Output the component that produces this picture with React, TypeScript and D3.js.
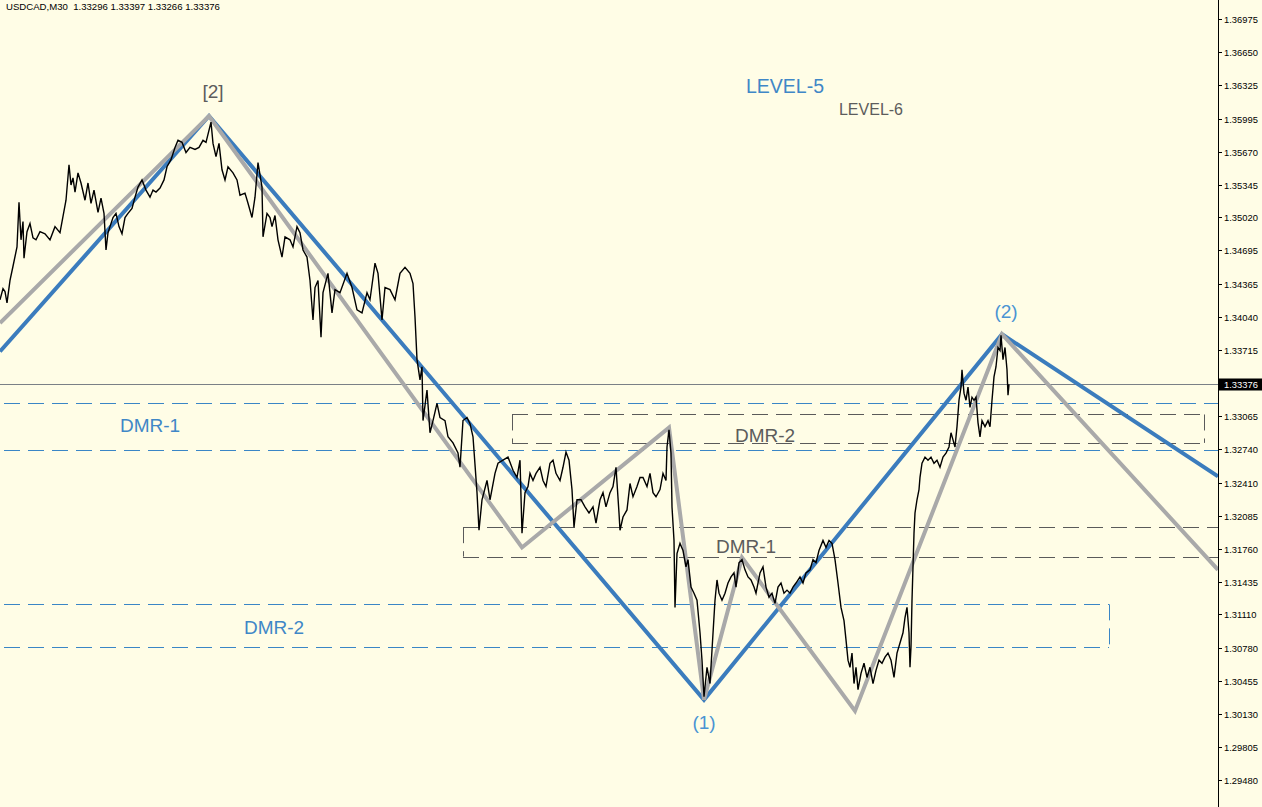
import { useEffect, useRef } from "react"
import * as d3 from "d3"

// chart header
const symbol = "USDCAD,M30"
const lastBar = [1.33296, 1.33397, 1.33266, 1.33376] // open high low close

// right price scale labels
const tickLabels = [
  "1.36975", "1.36650", "1.36325", "1.35995", "1.35670", "1.35345", "1.35020", "1.34695",
  "1.34365", "1.34040", "1.33715", "1.33065", "1.32740", "1.32410", "1.32085", "1.31760",
  "1.31435", "1.31110", "1.30780", "1.30455", "1.30130", "1.29805", "1.29480",
]

// close prices: [bar, price]
const closes: [number, number][] = [
  [0, 1.3421], [3, 1.3432], [5, 1.3429], [7, 1.3418], [10, 1.344], [13, 1.3454], [17, 1.3473],
  [19, 1.3517], [21, 1.348], [23, 1.3498], [24, 1.3462], [27, 1.3488], [30, 1.3496], [33, 1.3482],
  [36, 1.348], [40, 1.3488], [45, 1.3486], [50, 1.348], [55, 1.3493], [60, 1.3487], [63, 1.3503],
  [66, 1.3519], [69, 1.3554], [71, 1.3534], [73, 1.3541], [75, 1.3527], [78, 1.3546], [81, 1.3536],
  [85, 1.3519], [88, 1.3536], [91, 1.3516], [94, 1.3529], [98, 1.3507], [101, 1.3521], [104, 1.3506],
  [106, 1.347], [108, 1.3487], [110, 1.3493], [113, 1.3502], [116, 1.3506], [119, 1.3493],
  [122, 1.3486], [125, 1.3502], [128, 1.3506], [132, 1.3511], [135, 1.3522], [138, 1.3532],
  [142, 1.3539], [146, 1.3529], [150, 1.3522], [153, 1.3529], [156, 1.3527], [160, 1.3531],
  [164, 1.3539], [167, 1.3552], [171, 1.3559], [175, 1.3571], [178, 1.3578], [182, 1.3576],
  [186, 1.3566], [190, 1.3571], [195, 1.3569], [199, 1.3571], [203, 1.3578], [206, 1.3576],
  [211, 1.3596], [213, 1.3575], [216, 1.3562], [219, 1.3575], [222, 1.3549], [225, 1.3539],
  [228, 1.3552], [233, 1.3546], [237, 1.3539], [240, 1.3524], [245, 1.3526], [248, 1.3516],
  [252, 1.3502], [255, 1.3522], [258, 1.3556], [260, 1.3544], [262, 1.3532], [263, 1.3483],
  [267, 1.3506], [270, 1.3502], [272, 1.3493], [275, 1.3504], [278, 1.348], [282, 1.3463],
  [285, 1.3483], [290, 1.348], [293, 1.3473], [297, 1.3493], [300, 1.3487], [303, 1.347],
  [307, 1.3463], [310, 1.344], [313, 1.3401], [315, 1.3433], [318, 1.344], [321, 1.3384],
  [323, 1.3428], [328, 1.3447], [332, 1.3408], [335, 1.3431], [340, 1.3428], [347, 1.3447],
  [352, 1.3433], [357, 1.3411], [362, 1.3408], [367, 1.3428], [370, 1.3421], [375, 1.3457],
  [378, 1.3447], [382, 1.3401], [385, 1.3433], [390, 1.3431], [395, 1.3421], [400, 1.3447],
  [405, 1.3453], [410, 1.3447], [413, 1.3437], [415, 1.3404], [417, 1.3362], [420, 1.3342],
  [422, 1.3355], [423, 1.3302], [427, 1.3332], [430, 1.329], [433, 1.3302], [437, 1.3319],
  [440, 1.3305], [445, 1.3302], [448, 1.3286], [453, 1.328], [458, 1.327], [460, 1.3256],
  [463, 1.3302], [467, 1.3305], [470, 1.3299], [473, 1.3286], [477, 1.3231], [479, 1.3194],
  [482, 1.3224], [487, 1.3243], [490, 1.3224], [495, 1.325], [498, 1.326], [503, 1.3263],
  [508, 1.3266], [513, 1.3253], [517, 1.3246], [520, 1.3263], [522, 1.3191], [525, 1.3231],
  [528, 1.3237], [530, 1.325], [533, 1.3243], [536, 1.325], [540, 1.3256], [543, 1.3243],
  [546, 1.3237], [550, 1.326], [553, 1.3263], [556, 1.325], [560, 1.3243], [563, 1.3256],
  [566, 1.3271], [569, 1.3263], [572, 1.3234], [574, 1.3197], [577, 1.3224], [581, 1.3224],
  [585, 1.3217], [589, 1.3211], [593, 1.3217], [596, 1.3201], [600, 1.3224], [603, 1.3231],
  [606, 1.3217], [610, 1.3231], [613, 1.3237], [616, 1.3256], [619, 1.3211], [620, 1.3194],
  [623, 1.3207], [627, 1.3214], [630, 1.324], [633, 1.3227], [637, 1.3237], [640, 1.3246],
  [643, 1.3246], [647, 1.3237], [650, 1.325], [653, 1.3231], [656, 1.3227], [660, 1.3234],
  [663, 1.325], [666, 1.3243], [667, 1.3276], [669, 1.3293], [671, 1.327], [672, 1.3217],
  [674, 1.3184], [675, 1.3118], [677, 1.3171], [680, 1.3181], [683, 1.3174], [686, 1.3158],
  [688, 1.3165], [691, 1.3138], [694, 1.3132], [697, 1.3125], [700, 1.3093], [702, 1.3066],
  [704, 1.303], [707, 1.3059], [710, 1.3043], [712, 1.3076], [715, 1.3125], [717, 1.3145],
  [719, 1.3132], [722, 1.3125], [725, 1.3132], [728, 1.3142], [731, 1.3148], [734, 1.3152],
  [736, 1.3138], [739, 1.3162], [742, 1.3165], [745, 1.3155], [748, 1.3148], [751, 1.3145],
  [754, 1.3138], [756, 1.3132], [760, 1.3152], [763, 1.3158], [766, 1.3138], [769, 1.3128],
  [772, 1.3132], [775, 1.3122], [778, 1.3138], [781, 1.3142], [784, 1.3132], [787, 1.3135],
  [790, 1.3132], [793, 1.3138], [796, 1.3142], [800, 1.3148], [803, 1.3142], [806, 1.3152],
  [810, 1.3155], [813, 1.3165], [816, 1.3162], [819, 1.3174], [823, 1.3184], [826, 1.3177],
  [829, 1.3184], [832, 1.3181], [835, 1.3165], [838, 1.3142], [841, 1.3118], [844, 1.3105],
  [846, 1.3086], [848, 1.3066], [850, 1.3059], [852, 1.3073], [854, 1.3043], [856, 1.3059],
  [858, 1.3037], [861, 1.3053], [864, 1.3063], [867, 1.3049], [870, 1.3059], [873, 1.3043],
  [876, 1.3056], [879, 1.3066], [882, 1.3063], [885, 1.3069], [888, 1.3073], [891, 1.3066],
  [894, 1.3049], [897, 1.3073], [900, 1.3083], [903, 1.3093], [905, 1.3108], [907, 1.3118],
  [909, 1.3093], [910, 1.3059], [911, 1.3079], [912, 1.3125], [913, 1.3158], [914, 1.3191],
  [915, 1.3211], [917, 1.3224], [919, 1.3234], [920, 1.3246], [922, 1.326], [925, 1.3266],
  [928, 1.3263], [931, 1.3266], [934, 1.326], [937, 1.3263], [940, 1.3256], [943, 1.3266],
  [946, 1.327], [949, 1.3276], [951, 1.329], [953, 1.3283], [955, 1.3276], [957, 1.3296],
  [959, 1.3322], [961, 1.3335], [962, 1.3352], [964, 1.3329], [966, 1.3322], [968, 1.3335],
  [970, 1.3315], [972, 1.3325], [974, 1.3322], [976, 1.3325], [978, 1.33], [980, 1.3286],
  [982, 1.3302], [985, 1.3296], [988, 1.3302], [990, 1.3296], [992, 1.3322], [994, 1.3345],
  [996, 1.3355], [998, 1.3374], [1000, 1.3371], [1001, 1.3386], [1003, 1.3362], [1005, 1.3374],
  [1007, 1.3352], [1008, 1.3327], [1009, 1.33376],
]

// wave swings: [bar, price]
const level5: [number, number][] = [
  [0, 1.337], [209, 1.3602], [704, 1.3027], [1002, 1.3387], [1218, 1.3247],
]
const level6: [number, number][] = [
  [0, 1.3398], [209, 1.3602], [522, 1.3177], [669, 1.3295], [704, 1.3027],
  [742, 1.3167], [855, 1.3016], [1002, 1.3387], [1218, 1.3155],
]

// wave labels
const waveLabels = [
  { text: "[2]", bar: 213, price: 1.3602, level: 6 },
  { text: "(1)", bar: 704, price: 1.3027, level: 5 },
  { text: "(2)", bar: 1006, price: 1.3387, level: 5 },
]

// demand/supply zones
const zones = [
  { label: "DMR-1", level: 5, hi: 1.3319, lo: 1.3273, start: -20, end: 1240, labelBar: 150, labelPrice: 1.3291 },
  { label: "DMR-2", level: 5, hi: 1.3121, lo: 1.3079, start: -20, end: 1109, labelBar: 274, labelPrice: 1.3092 },
  { label: "DMR-2", level: 6, hi: 1.3308, lo: 1.328, start: 512, end: 1204, labelBar: 765, labelPrice: 1.3281 },
  { label: "DMR-1", level: 6, hi: 1.3197, lo: 1.3168, start: 463, end: 1240, labelBar: 746, labelPrice: 1.3172 },
]

const W = 1262
const H = 807
const AXIS_X = 1218
const FONT = "'Liberation Sans', Arial, sans-serif"

const BLUE = "#3b7cbd"
const BLUE_DASH = "#3a86c6"
const BLUE_TEXT = "#3f87c7"
const GRAY = "#a9a9a9"
const GRAY_DASH = "#5a5a5a"
const GRAY_TEXT = "#5c5c5c"

export default function App() {
  const svgRef = useRef<SVGSVGElement>(null)

  useEffect(() => {
    if (!svgRef.current) return
    const svg = d3.select(svgRef.current)
    svg.selectAll("*").remove()

    const x = d3.scaleLinear().domain([0, 1218]).range([0, AXIS_X])
    const y = d3.scaleLinear().domain([1.2948, 1.36975]).range([780, 19])

    // background
    svg.append("rect").attr("width", W).attr("height", H).attr("fill", "#fffde6")

    svg
      .append("defs")
      .append("clipPath")
      .attr("id", "plot")
      .append("rect")
      .attr("x", 0)
      .attr("y", 0)
      .attr("width", AXIS_X)
      .attr("height", H)

    const plot = svg.append("g").attr("clip-path", "url(#plot)")

    // zones
    zones.forEach((z) => {
      const color = z.level === 5 ? BLUE_DASH : GRAY_DASH
      const g = plot
        .append("g")
        .attr("stroke", color)
        .attr("stroke-width", 1)
        .attr("stroke-dasharray", "16,8")
        .attr("fill", "none")
      ;[z.hi, z.lo].forEach((p) => {
        g.append("line")
          .attr("x1", x(z.start))
          .attr("x2", x(z.end))
          .attr("y1", Math.round(y(p)) + 0.5)
          .attr("y2", Math.round(y(p)) + 0.5)
      })
      ;[z.start, z.end].forEach((b) => {
        g.append("line")
          .attr("x1", Math.round(x(b)) + 0.5)
          .attr("x2", Math.round(x(b)) + 0.5)
          .attr("y1", y(z.hi))
          .attr("y2", y(z.lo))
      })
    })

    // current price line
    const lastY = Math.round(y(lastBar[3])) + 0.5
    plot
      .append("line")
      .attr("x1", 0)
      .attr("x2", AXIS_X)
      .attr("y1", lastY)
      .attr("y2", lastY)
      .attr("stroke", "#7a8086")
      .attr("stroke-width", 1)

    const line = d3
      .line<[number, number]>()
      .x((d) => x(d[0]))
      .y((d) => y(d[1]))

    // wave lines
    plot
      .append("path")
      .datum(level5)
      .attr("d", line)
      .attr("fill", "none")
      .attr("stroke", BLUE)
      .attr("stroke-width", 4)
      .attr("stroke-linejoin", "miter")

    plot
      .append("path")
      .datum(level6)
      .attr("d", line)
      .attr("fill", "none")
      .attr("stroke", GRAY)
      .attr("stroke-width", 4)
      .attr("stroke-linejoin", "miter")

    // price
    plot
      .append("path")
      .datum(closes)
      .attr("d", line)
      .attr("fill", "none")
      .attr("stroke", "#000")
      .attr("stroke-width", 1.4)

    // zone labels
    zones.forEach((z) => {
      plot
        .append("text")
        .attr("x", x(z.labelBar))
        .attr("y", y(z.labelPrice))
        .attr("text-anchor", "middle")
        .attr("font-family", FONT)
        .attr("font-size", 19)
        .attr("fill", z.level === 5 ? BLUE_TEXT : GRAY_TEXT)
        .text(z.label)
    })

    // wave labels
    waveLabels.forEach((w) => {
      const above = w.text !== "(1)"
      plot
        .append("text")
        .attr("x", x(w.bar))
        .attr("y", y(w.price) + (above ? (w.level === 6 ? -18 : -16) : 29))
        .attr("text-anchor", "middle")
        .attr("font-family", FONT)
        .attr("font-size", 19)
        .attr("fill", w.level === 6 ? GRAY_TEXT : "#4a93d3")
        .text(w.text)
    })

    // level legend
    svg
      .append("text")
      .attr("x", 785)
      .attr("y", 93)
      .attr("text-anchor", "middle")
      .attr("font-family", FONT)
      .attr("font-size", 19.5)
      .attr("fill", BLUE_TEXT)
      .text("LEVEL-5")
    svg
      .append("text")
      .attr("x", 871)
      .attr("y", 115)
      .attr("text-anchor", "middle")
      .attr("font-family", FONT)
      .attr("font-size", 16)
      .attr("fill", GRAY_TEXT)
      .text("LEVEL-6")

    // header
    svg
      .append("text")
      .attr("x", 6)
      .attr("y", 10)
      .attr("font-family", FONT)
      .attr("font-size", 9.6)
      .attr("fill", "#000")
      .attr("xml:space", "preserve")
      .text(`${symbol}  ${lastBar.map((v) => v.toFixed(5)).join(" ")}`)

    // price axis
    svg
      .append("line")
      .attr("x1", AXIS_X + 0.5)
      .attr("x2", AXIS_X + 0.5)
      .attr("y1", 0)
      .attr("y2", H)
      .attr("stroke", "#000")

    const axis = svg.append("g")
    tickLabels.forEach((t) => {
      const ty = Math.round(y(+t)) + 0.5
      axis
        .append("line")
        .attr("x1", AXIS_X + 1)
        .attr("x2", AXIS_X + 4)
        .attr("y1", ty)
        .attr("y2", ty)
        .attr("stroke", "#000")
      axis
        .append("text")
        .attr("x", AXIS_X + 6)
        .attr("y", ty)
        .attr("dy", "0.35em")
        .attr("font-family", FONT)
        .attr("font-size", 9.4)
        .attr("fill", "#000")
        .text(t)
    })

    // current price tag
    axis
      .append("rect")
      .attr("x", AXIS_X + 1)
      .attr("y", lastY - 6)
      .attr("width", W - AXIS_X - 1)
      .attr("height", 12)
      .attr("fill", "#000")
    axis
      .append("text")
      .attr("x", AXIS_X + 6)
      .attr("y", lastY)
      .attr("dy", "0.35em")
      .attr("font-family", FONT)
      .attr("font-size", 9.4)
      .attr("fill", "#fff")
      .text(lastBar[3].toFixed(5))
  }, [])

  return (
    <div style={{ position: "fixed", left: 0, top: 0, width: W, height: H }}>
      <svg ref={svgRef} width={W} height={H} style={{ display: "block" }} />
    </div>
  )
}
